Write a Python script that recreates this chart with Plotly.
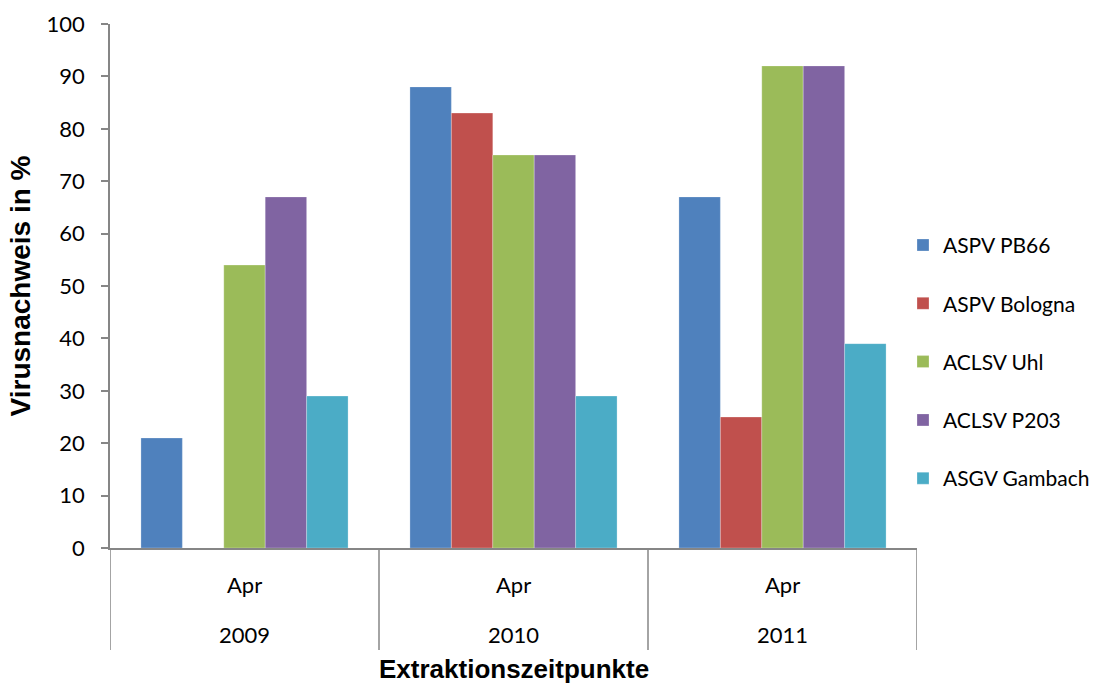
import plotly.graph_objects as go

years = ["2009", "2010", "2011"]
month = "Apr"
series_names = ["ASPV PB66", "ASPV Bologna", "ACLSV Uhl", "ACLSV P203", "ASGV Gambach"]
aspv_pb66 = [21, 88, 67]
aspv_bologna = [0, 83, 25]
aclsv_uhl = [54, 75, 92]
aclsv_p203 = [67, 75, 92]
asgv_gambach = [29, 29, 39]
y_ticks = [0, 10, 20, 30, 40, 50, 60, 70, 80, 90, 100]

colors = ["#4F81BD", "#C0504D", "#9BBB59", "#8064A2", "#4BACC6"]
values = [aspv_pb66, aspv_bologna, aclsv_uhl, aclsv_p203, asgv_gambach]

AXIS = "#868686"
FONT = "Lato, 'Noto Sans', sans-serif"
BOLD = "'Liberation Sans', Arial, sans-serif"
FS = 22

fig = go.Figure()
for i, (name, vals) in enumerate(zip(series_names, values)):
    fig.add_trace(go.Bar(
        x=years, y=vals, name=name,
        marker=dict(color=colors[i], line=dict(color="rgba(255,255,255,0.5)", width=0.5)),
        legendgroup=name,
    ))

# category separators below the x axis
for xb in [-0.5, 0.5, 1.5, 2.5]:
    fig.add_shape(type="line", xref="x", yref="paper", x0=xb, x1=xb, y0=0, y1=-0.1945,
                  line=dict(color=AXIS, width=1.5))

# two-row category labels
for idx, yr in enumerate(years):
    fig.add_annotation(x=idx, xref="x", y=0, yref="paper", yanchor="middle", yshift=-36,
                       text=month, showarrow=False, font=dict(family=FONT, size=FS, color="#000"))
    fig.add_annotation(x=idx, xref="x", y=0, yref="paper", yanchor="middle", yshift=-86,
                       text=yr, showarrow=False, font=dict(family=FONT, size=FS, color="#000"))

fig.add_annotation(x=0.5, xref="paper", y=0, yref="paper", yanchor="middle", yshift=-121,
                   text="<b>Extraktionszeitpunkte</b>", showarrow=False,
                   font=dict(family=BOLD, size=26, color="#000"))

fig.update_layout(
    width=1114, height=684,
    margin=dict(l=110, r=197, t=23.5, b=136),
    paper_bgcolor="white", plot_bgcolor="white",
    barmode="group", bargap=0.23, bargroupgap=0,
    font=dict(family=FONT, size=FS, color="#000"),
    legend=dict(x=1.0, xanchor="left", y=0.6167, yanchor="top", indentation=-14,
                font=dict(family=FONT, size=21), tracegroupgap=28,
                itemwidth=30, bgcolor="rgba(0,0,0,0)"),
    xaxis=dict(type="category", showticklabels=False, showline=True, linecolor=AXIS, linewidth=1.5,
               ticks="", showgrid=False, zeroline=False, range=[-0.5, 2.5], automargin=False),
    yaxis=dict(range=[0, 100], tickvals=y_ticks, ticks="outside", ticklen=7,
               tickcolor=AXIS, tickwidth=1.5, showline=True, linecolor=AXIS, linewidth=1.5,
               showgrid=False, zeroline=False, ticklabelstandoff=12, automargin=False,
               tickfont=dict(family=FONT, size=FS, color="#000"),
               title=dict(text="<b>Virusnachweis in %</b>", font=dict(family=BOLD, size=28, color="#000"),
                          standoff=8)),
)

fig.write_html("out.html")
